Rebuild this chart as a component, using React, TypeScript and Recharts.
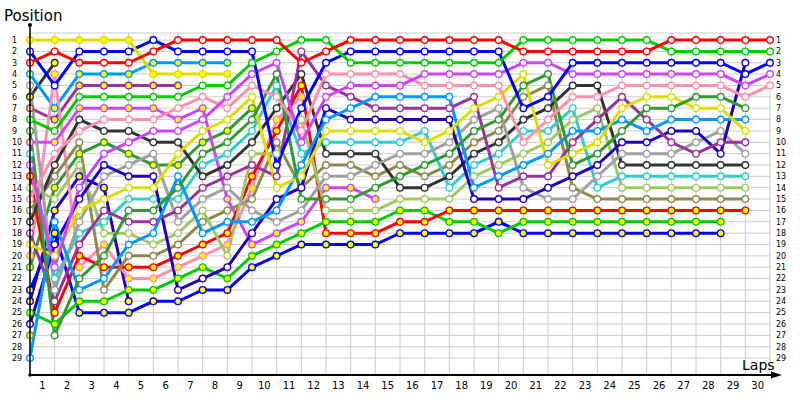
import { LineChart, Line, XAxis, YAxis, CartesianGrid } from "recharts";

// column 0 = grid, columns 1..30 = end of each lap
const laps = [0, 1, 2, 3, 4, 5, 6, 7, 8, 9, 10, 11, 12, 13, 14, 15, 16, 17, 18, 19, 20, 21, 22, 23, 24, 25, 26, 27, 28, 29, 30];
const positionTicks = [1, 2, 3, 4, 5, 6, 7, 8, 9, 10, 11, 12, 13, 14, 15, 16, 17, 18, 19, 20, 21, 22, 23, 24, 25, 26, 27, 28, 29];

// white-marker drivers
const redW = [3, 2, 3, 3, 3, 2, 1, 1, 1, 1, 1, 3, 2, 1, 1, 1, 1, 1, 1, 1, 2, 2, 2, 2, 2, 2, 1, 1, 1, 1, 1];
const greenW = [8, 9, 6, 6, 6, 6, 6, 5, 5, 3, 2, 1, 1, 3, 3, 3, 3, 3, 3, 3, 1, 1, 1, 1, 1, 1, 2, 2, 2, 2, 2];
const blueW = [2, 5, 2, 2, 2, 1, 2, 2, 2, 2, 12, 7, 3, 2, 2, 2, 2, 2, 2, 2, 7, 6, 3, 3, 3, 3, 3, 3, 3, 4, 3];
const violetW = [12, 21, 14, 11, 10, 9, 9, 8, 6, 4, 3, 10, 6, 5, 5, 5, 4, 4, 4, 4, 3, 3, 4, 4, 4, 4, 4, 4, 4, 5, 4];
const pinkW = [15, 11, 9, 8, 8, 8, 7, 6, 7, 5, 6, 9, 4, 4, 4, 4, 5, 5, 5, 5, 10, 8, 6, 6, 5, 5, 5, 5, 5, 6, 5];
const dkgreenW = [9, 27, 22, 20, 16, 16, 14, 11, 10, 8, 4, 15, 15, 15, 14, 13, 12, 11, 9, 8, 5, 4, 12, 11, 9, 7, 7, 6, 6, 7];
const yellowW = [19, 20, 16, 15, 14, 14, 11, 9, 8, 6, 14, 13, 9, 9, 9, 9, 10, 9, 7, 6, 4, 12, 11, 10, 7, 6, 6, 7, 7, 9];
const lightblueW = [29, 17, 23, 22, 19, 18, 13, 18, 17, 17, 16, 12, 8, 7, 6, 6, 6, 6, 14, 13, 12, 11, 9, 9, 8, 9, 8, 8, 8, 8];
const dkpurpleW = [18, 24, 19, 16, 17, 17, 16, 14, 13, 12, 13, 2, 5, 6, 7, 7, 7, 7, 6, 14, 13, 13, 10, 8, 6, 8, 10, 11, 10, 10];
const navyW = [26, 19, 15, 12, 13, 13, 23, 22, 21, 18, 15, 14, 7, 8, 8, 8, 8, 8, 15, 15, 15, 14, 13, 12, 10, 10, 9, 9, 11, 3];
const grayW = [5, 23, 17, 13, 12, 11, 17, 15, 14, 16, 17, 16, 13, 13, 12, 11, 11, 10, 8, 7, 14, 15, 15, 13, 11, 11, 11, 10, 9, 11];
const blackW = [17, 12, 8, 9, 9, 10, 10, 13, 12, 10, 7, 4, 11, 11, 11, 14, 14, 13, 11, 10, 8, 7, 5, 5, 12, 12, 12, 12, 12, 12];
const cyanW = [11, 22, 18, 17, 15, 15, 15, 12, 11, 9, 5, 11, 10, 10, 10, 10, 9, 14, 12, 11, 9, 9, 7, 14, 13, 13, 13, 13, 13, 13];
const lightgreenW = [14, 15, 12, 18, 18, 19, 18, 16, 20, 11, 11, 8, 16, 16, 16, 15, 15, 15, 13, 12, 11, 10, 8, 7, 14, 14, 14, 14, 14, 14];
const oliveW = [16, 13, 10, 23, 20, 20, 19, 17, 16, 15, 10, 14, 12, 12, 13, 12, 13, 12, 10, 9, 6, 5, 14, 15, 15, 15, 15, 15, 15, 15];

// yellow-marker drivers
const redY = [13, 25, 20, 21, 21, 21, 20, 19, 18, 13, 9, 5, 18, 18, 18, 17, 17, 16, 16, 16, 16, 16, 16, 16, 16, 16, 16, 16, 16, 16];
const greenY = [25, 26, 24, 24, 23, 23, 22, 21, 22, 20, 19, 18, 17, 17, 17, 16, 16, 17, 17, 18, 17, 17, 17, 17, 17, 17, 17, 17, 17];
const blueY = [23, 18, 25, 25, 25, 24, 24, 23, 23, 21, 20, 19, 19, 19, 19, 18, 18, 18, 18, 17, 18, 18, 18, 18, 18, 18, 18, 18, 18];
const violetY = [10, 10, 7, 7, 7, 7, 8, 7, 15, 19, 18, 17, 14, 14, 15];
const pinkY = [20, 4, 21, 19, 22, 22, 21, 20, 19, 14, 8, 6];
const yellowY = [1, 1, 1, 1, 1, 4, 4, 4, 4];
const lightblueY = [4, 7, 4, 4, 4, 3, 3, 3, 3];
const dkpurpleY = [7, 8, 5, 5, 5, 5, 5];
const blackY = [6, 3];
const dkgreenY = [21, 14, 11, 10, 11, 12, 12, 10, 9, 7];
const navyY = [24, 16, 13, 14, 24];
const oliveY = [27];

const WHITE = "#ffffff";
const YEL = "#ffff00";

const drivers = [
  { key: "oliveY", color: "#8c8a4e", fill: YEL, values: oliveY },
  { key: "navyY", color: "#2200bb", fill: YEL, values: navyY },
  { key: "dkgreenY", color: "#339933", fill: YEL, values: dkgreenY },
  { key: "blackY", color: "#333333", fill: YEL, values: blackY },
  { key: "dkpurpleY", color: "#993399", fill: YEL, values: dkpurpleY },
  { key: "lightblueY", color: "#0099ff", fill: YEL, values: lightblueY },
  { key: "pinkY", color: "#ff8fab", fill: YEL, values: pinkY },
  { key: "violetY", color: "#cc44ff", fill: YEL, values: violetY },
  { key: "blueY", color: "#0000ff", fill: YEL, values: blueY },
  { key: "greenY", color: "#00cc00", fill: YEL, values: greenY },
  { key: "redY", color: "#ff0000", fill: YEL, values: redY },
  { key: "oliveW", color: "#8c8a4e", fill: WHITE, values: oliveW },
  { key: "lightgreenW", color: "#a0c864", fill: WHITE, values: lightgreenW },
  { key: "cyanW", color: "#33cccc", fill: WHITE, values: cyanW },
  { key: "blackW", color: "#333333", fill: WHITE, values: blackW },
  { key: "grayW", color: "#a0a0a0", fill: WHITE, values: grayW },
  { key: "navyW", color: "#2200bb", fill: WHITE, values: navyW },
  { key: "dkpurpleW", color: "#993399", fill: WHITE, values: dkpurpleW },
  { key: "lightblueW", color: "#0099ff", fill: WHITE, values: lightblueW },
  { key: "yellowW", color: "#dddd00", fill: WHITE, values: yellowW },
  { key: "dkgreenW", color: "#339933", fill: WHITE, values: dkgreenW },
  { key: "pinkW", color: "#ff8fab", fill: WHITE, values: pinkW },
  { key: "violetW", color: "#cc44ff", fill: WHITE, values: violetW },
  { key: "blueW", color: "#0000ff", fill: WHITE, values: blueW },
  { key: "greenW", color: "#00cc00", fill: WHITE, values: greenW },
  { key: "yellowY", color: "#dddd00", fill: YEL, values: yellowY },
  { key: "redW", color: "#ff0000", fill: WHITE, values: redW },
];

const data = laps.map((lap, i) => {
  const row: Record<string, number | null> = { lap };
  drivers.forEach((d) => {
    row[d.key] = i < d.values.length ? d.values[i] : null;
  });
  return row;
});

const font = "'DejaVu Sans', Verdana, sans-serif";

const LeftTick = (props: any) => (
  <text x={12} y={props.y} dy="0.35em" fontSize={8} fontFamily={font} fill="#000">
    {props.payload.value}
  </text>
);

const RightTick = (props: any) => (
  <text x={776} y={props.y} dy="0.35em" fontSize={8} fontFamily={font} fill="#000">
    {props.payload.value}
  </text>
);

const LapTick = (props: any) => {
  if (props.payload.value === 0) return <g />;
  return (
    <text x={props.x - 12.3} y={389} textAnchor="middle" fontSize={10} fontFamily={font} fill="#000">
      {props.payload.value}
    </text>
  );
};

export default function App() {
  return (
    <div style={{ position: "absolute", left: 0, top: 0, width: 800, height: 400, background: "#fff" }}>
      <LineChart width={800} height={400} data={data} margin={{ top: 33, right: 0, left: 0, bottom: 0 }}>
        <CartesianGrid stroke="#cccccc" strokeWidth={1} yAxisId="left" />
        <XAxis
          dataKey="lap"
          type="number"
          domain={[0, 30]}
          ticks={laps}
          height={25}
          axisLine={false}
          tickLine={false}
          tick={<LapTick />}
          interval={0}
        />
        <YAxis
          yAxisId="left"
          type="number"
          domain={[0.38, 30.49]}
          reversed
          ticks={positionTicks}
          width={30}
          axisLine={false}
          tickLine={false}
          tick={<LeftTick />}
          interval={0}
          allowDataOverflow
        />
        <YAxis
          yAxisId="right"
          orientation="right"
          type="number"
          domain={[0.38, 30.49]}
          reversed
          ticks={positionTicks}
          width={30}
          axisLine={false}
          tickLine={false}
          tick={<RightTick />}
          interval={0}
          allowDataOverflow
        />
        {drivers.map((d) => (
          <Line
            key={d.key}
            yAxisId="left"
            type="linear"
            dataKey={d.key}
            stroke={d.color}
            strokeWidth={3}
            dot={{ r: 3.3, fill: d.fill, stroke: d.color, strokeWidth: 1.4 }}
            activeDot={false}
            connectNulls={false}
            isAnimationActive={false}
          />
        ))}
      </LineChart>
      <svg width={800} height={400} style={{ position: "absolute", left: 0, top: 0, pointerEvents: "none" }}>
        <line x1={30} y1={375} x2={776} y2={375} stroke="#000" strokeWidth={2} />
        <polygon points="771,371.5 782,375 771,378.5" fill="#000" />
        <line x1={30} y1={375} x2={30} y2={26} stroke="#000" strokeWidth={1.5} />
        <circle cx={30} cy={25} r={2} fill="#000" />
        <circle cx={30} cy={375} r={1.8} fill="#000" />
        <text x={4} y={21} fontSize={15} fontFamily={font} fill="#000">Position</text>
        <text x={742} y={370} fontSize={14} fontFamily={font} fill="#000">Laps</text>
      </svg>
    </div>
  );
}
